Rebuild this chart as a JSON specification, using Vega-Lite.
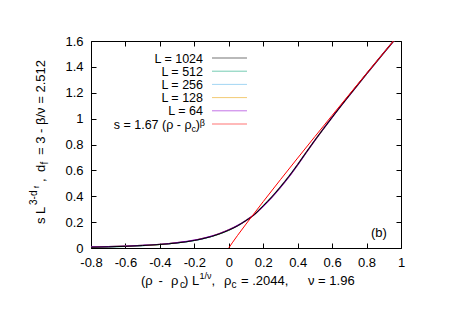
{
  "$schema": "https://vega.github.io/schema/vega-lite/v6.json",
  "width": 310,
  "height": 207,
  "autosize": {"type": "none"},
  "padding": {"left": 91, "top": 41, "right": 62, "bottom": 79},
  "background": "white",
  "config": {
    "view": {"stroke": "black", "strokeWidth": 1},
    "font": "Liberation Sans",
    "text": {"font": "Liberation Sans", "fontSize": 13, "baseline": "alphabetic", "color": "black"},
    "axis": {"grid": false, "domain": false, "labelFont": "Liberation Sans", "labelFontSize": 13, "labelColor": "black", "tickColor": "black", "tickWidth": 1, "title": null, "labelFlush": false, "labelOverlap": false, "labelBound": false}
  },
  "datasets": {
    "curves": [
      {"series": "L = 1024", "x": -0.8, "y": 0.006}, {"series": "L = 1024", "x": -0.7, "y": 0.009}, {"series": "L = 1024", "x": -0.6, "y": 0.013}, {"series": "L = 1024", "x": -0.5, "y": 0.019}, {"series": "L = 1024", "x": -0.4, "y": 0.027}, {"series": "L = 1024", "x": -0.3, "y": 0.039}, {"series": "L = 1024", "x": -0.2, "y": 0.058}, {"series": "L = 1024", "x": -0.15, "y": 0.072}, {"series": "L = 1024", "x": -0.1, "y": 0.089}, {"series": "L = 1024", "x": -0.05, "y": 0.111}, {"series": "L = 1024", "x": 0, "y": 0.138}, {"series": "L = 1024", "x": 0.05, "y": 0.171}, {"series": "L = 1024", "x": 0.1, "y": 0.212}, {"series": "L = 1024", "x": 0.15, "y": 0.26}, {"series": "L = 1024", "x": 0.2, "y": 0.326}, {"series": "L = 1024", "x": 0.25, "y": 0.395}, {"series": "L = 1024", "x": 0.3, "y": 0.472}, {"series": "L = 1024", "x": 0.35, "y": 0.555}, {"series": "L = 1024", "x": 0.4, "y": 0.645}, {"series": "L = 1024", "x": 0.45, "y": 0.74}, {"series": "L = 1024", "x": 0.5, "y": 0.833}, {"series": "L = 1024", "x": 0.55, "y": 0.922}, {"series": "L = 1024", "x": 0.6, "y": 1.01}, {"series": "L = 1024", "x": 0.7, "y": 1.18}, {"series": "L = 1024", "x": 0.8, "y": 1.346}, {"series": "L = 1024", "x": 0.9, "y": 1.508}, {"series": "L = 1024", "x": 0.97, "y": 1.62},
      {"series": "L = 512", "x": -0.8, "y": 0.006}, {"series": "L = 512", "x": -0.7, "y": 0.009}, {"series": "L = 512", "x": -0.6, "y": 0.013}, {"series": "L = 512", "x": -0.5, "y": 0.019}, {"series": "L = 512", "x": -0.4, "y": 0.027}, {"series": "L = 512", "x": -0.3, "y": 0.039}, {"series": "L = 512", "x": -0.2, "y": 0.058}, {"series": "L = 512", "x": -0.15, "y": 0.072}, {"series": "L = 512", "x": -0.1, "y": 0.089}, {"series": "L = 512", "x": -0.05, "y": 0.111}, {"series": "L = 512", "x": 0, "y": 0.138}, {"series": "L = 512", "x": 0.05, "y": 0.171}, {"series": "L = 512", "x": 0.1, "y": 0.212}, {"series": "L = 512", "x": 0.15, "y": 0.26}, {"series": "L = 512", "x": 0.2, "y": 0.326}, {"series": "L = 512", "x": 0.25, "y": 0.395}, {"series": "L = 512", "x": 0.3, "y": 0.472}, {"series": "L = 512", "x": 0.35, "y": 0.555}, {"series": "L = 512", "x": 0.4, "y": 0.645}, {"series": "L = 512", "x": 0.45, "y": 0.74}, {"series": "L = 512", "x": 0.5, "y": 0.833}, {"series": "L = 512", "x": 0.55, "y": 0.922}, {"series": "L = 512", "x": 0.6, "y": 1.01}, {"series": "L = 512", "x": 0.7, "y": 1.18}, {"series": "L = 512", "x": 0.8, "y": 1.346}, {"series": "L = 512", "x": 0.9, "y": 1.508}, {"series": "L = 512", "x": 0.97, "y": 1.62},
      {"series": "L = 256", "x": -0.8, "y": 0.007}, {"series": "L = 256", "x": -0.7, "y": 0.01}, {"series": "L = 256", "x": -0.6, "y": 0.014}, {"series": "L = 256", "x": -0.5, "y": 0.02}, {"series": "L = 256", "x": -0.4, "y": 0.028}, {"series": "L = 256", "x": -0.3, "y": 0.04}, {"series": "L = 256", "x": -0.2, "y": 0.059}, {"series": "L = 256", "x": -0.15, "y": 0.073}, {"series": "L = 256", "x": -0.1, "y": 0.09}, {"series": "L = 256", "x": -0.05, "y": 0.112}, {"series": "L = 256", "x": 0, "y": 0.139}, {"series": "L = 256", "x": 0.05, "y": 0.172}, {"series": "L = 256", "x": 0.1, "y": 0.212}, {"series": "L = 256", "x": 0.15, "y": 0.26}, {"series": "L = 256", "x": 0.2, "y": 0.325}, {"series": "L = 256", "x": 0.25, "y": 0.394}, {"series": "L = 256", "x": 0.3, "y": 0.471}, {"series": "L = 256", "x": 0.35, "y": 0.554}, {"series": "L = 256", "x": 0.4, "y": 0.645}, {"series": "L = 256", "x": 0.45, "y": 0.739}, {"series": "L = 256", "x": 0.5, "y": 0.833}, {"series": "L = 256", "x": 0.55, "y": 0.922}, {"series": "L = 256", "x": 0.6, "y": 1.01}, {"series": "L = 256", "x": 0.7, "y": 1.18}, {"series": "L = 256", "x": 0.8, "y": 1.346}, {"series": "L = 256", "x": 0.9, "y": 1.508}, {"series": "L = 256", "x": 0.97, "y": 1.62},
      {"series": "L = 128", "x": -0.8, "y": 0.007}, {"series": "L = 128", "x": -0.7, "y": 0.01}, {"series": "L = 128", "x": -0.6, "y": 0.014}, {"series": "L = 128", "x": -0.5, "y": 0.02}, {"series": "L = 128", "x": -0.4, "y": 0.028}, {"series": "L = 128", "x": -0.3, "y": 0.041}, {"series": "L = 128", "x": -0.2, "y": 0.06}, {"series": "L = 128", "x": -0.15, "y": 0.074}, {"series": "L = 128", "x": -0.1, "y": 0.091}, {"series": "L = 128", "x": -0.05, "y": 0.113}, {"series": "L = 128", "x": 0, "y": 0.14}, {"series": "L = 128", "x": 0.05, "y": 0.172}, {"series": "L = 128", "x": 0.1, "y": 0.213}, {"series": "L = 128", "x": 0.15, "y": 0.26}, {"series": "L = 128", "x": 0.2, "y": 0.324}, {"series": "L = 128", "x": 0.25, "y": 0.393}, {"series": "L = 128", "x": 0.3, "y": 0.47}, {"series": "L = 128", "x": 0.35, "y": 0.553}, {"series": "L = 128", "x": 0.4, "y": 0.644}, {"series": "L = 128", "x": 0.45, "y": 0.739}, {"series": "L = 128", "x": 0.5, "y": 0.832}, {"series": "L = 128", "x": 0.55, "y": 0.922}, {"series": "L = 128", "x": 0.6, "y": 1.01}, {"series": "L = 128", "x": 0.7, "y": 1.18}, {"series": "L = 128", "x": 0.8, "y": 1.346}, {"series": "L = 128", "x": 0.9, "y": 1.508}, {"series": "L = 128", "x": 0.97, "y": 1.62},
      {"series": "L = 64", "x": -0.8, "y": 0.008}, {"series": "L = 64", "x": -0.7, "y": 0.011}, {"series": "L = 64", "x": -0.6, "y": 0.015}, {"series": "L = 64", "x": -0.5, "y": 0.021}, {"series": "L = 64", "x": -0.4, "y": 0.029}, {"series": "L = 64", "x": -0.3, "y": 0.042}, {"series": "L = 64", "x": -0.2, "y": 0.061}, {"series": "L = 64", "x": -0.15, "y": 0.075}, {"series": "L = 64", "x": -0.1, "y": 0.092}, {"series": "L = 64", "x": -0.05, "y": 0.114}, {"series": "L = 64", "x": 0, "y": 0.141}, {"series": "L = 64", "x": 0.05, "y": 0.173}, {"series": "L = 64", "x": 0.1, "y": 0.213}, {"series": "L = 64", "x": 0.15, "y": 0.261}, {"series": "L = 64", "x": 0.2, "y": 0.322}, {"series": "L = 64", "x": 0.25, "y": 0.391}, {"series": "L = 64", "x": 0.3, "y": 0.468}, {"series": "L = 64", "x": 0.35, "y": 0.551}, {"series": "L = 64", "x": 0.4, "y": 0.643}, {"series": "L = 64", "x": 0.45, "y": 0.738}, {"series": "L = 64", "x": 0.5, "y": 0.832}, {"series": "L = 64", "x": 0.55, "y": 0.922}, {"series": "L = 64", "x": 0.6, "y": 1.01}, {"series": "L = 64", "x": 0.7, "y": 1.18}, {"series": "L = 64", "x": 0.8, "y": 1.346}, {"series": "L = 64", "x": 0.9, "y": 1.508}, {"series": "L = 64", "x": 0.97, "y": 1.62}
    ],
    "fit": [
      {"x": 0, "y": 0}, {"x": 0.02, "y": 0.0397}, {"x": 0.05, "y": 0.0953}, {"x": 0.1, "y": 0.1849}, {"x": 0.2, "y": 0.3585}, {"x": 0.3, "y": 0.5282}, {"x": 0.4, "y": 0.6954}, {"x": 0.5, "y": 0.8609}, {"x": 0.6, "y": 1.0249}, {"x": 0.7, "y": 1.1875}, {"x": 0.8, "y": 1.3492}, {"x": 0.9, "y": 1.51}, {"x": 1.0, "y": 1.67}
    ],
    "legend": [
      {"series": "L = 1024"}, {"series": "L = 512"}, {"series": "L = 256"}, {"series": "L = 128"}, {"series": "L = 64"}, {"series": "fit"}
    ]
  },
  "resolve": {"scale": {"y": "independent"}, "axis": {"x": "independent", "y": "independent"}},
  "layer": [
    {
      "resolve": {"axis": {"x": "independent", "y": "independent"}},
      "layer": [
        {
          "data": {"name": "curves"},
          "transform": [{"filter": "datum.series !== 'L = 1024'"}],
          "mark": {"type": "line", "clip": true, "strokeWidth": 1.2, "interpolate": "monotone"},
          "encoding": {
            "x": {"field": "x", "type": "quantitative", "scale": {"domain": [-0.8, 1], "nice": false, "zero": false}, "axis": {"orient": "bottom", "values": [-0.8, -0.6, -0.4, -0.2, 0, 0.2, 0.4, 0.6, 0.8, 1], "ticks": false, "labelPadding": 8, "labelExpr": "replace(format(datum.value, '~g'), '\u2212', '-')"}},
            "y": {"field": "y", "type": "quantitative", "scale": {"domain": [0, 1.6], "nice": false, "zero": false}, "axis": {"orient": "left", "values": [0, 0.2, 0.4, 0.6, 0.8, 1, 1.2, 1.4, 1.6], "ticks": false, "labelPadding": 8, "labelExpr": "format(datum.value, '~g')"}},
            "color": {"field": "series", "type": "nominal", "scale": {"domain": ["L = 1024", "L = 512", "L = 256", "L = 128", "L = 64", "fit"], "range": ["#000000", "#009e73", "#56b4e9", "#e69f00", "#9400d3", "#ff0000"]}, "legend": null}
          }
        },
        {
          "data": {"name": "curves"},
          "transform": [{"filter": "datum.series === 'L = 1024'"}],
          "mark": {"type": "line", "clip": true, "strokeWidth": 1, "interpolate": "monotone"},
          "encoding": {
            "x": {"field": "x", "type": "quantitative", "scale": {"domain": [-0.8, 1]}, "axis": null},
            "y": {"field": "y", "type": "quantitative", "scale": {"domain": [0, 1.6]}, "axis": null},
            "color": {"field": "series", "type": "nominal", "legend": null}
          }
        },
        {
          "data": {"name": "fit"},
          "mark": {"type": "line", "clip": true, "strokeWidth": 1, "color": "#ff0000"},
          "encoding": {
            "x": {"field": "x", "type": "quantitative", "scale": {"domain": [-0.8, 1]}, "axis": {"orient": "top", "values": [-0.8, -0.6, -0.4, -0.2, 0, 0.2, 0.4, 0.6, 0.8, 1], "labels": false, "tickSize": -5}},
            "y": {"field": "y", "type": "quantitative", "scale": {"domain": [0, 1.6]}, "axis": {"orient": "right", "values": [0, 0.2, 0.4, 0.6, 0.8, 1, 1.2, 1.4, 1.6], "labels": false, "tickSize": -5}}
          }
        },
        {
          "data": {"name": "fit"},
          "mark": {"type": "line", "opacity": 0},
          "encoding": {
            "x": {"field": "x", "type": "quantitative", "scale": {"domain": [-0.8, 1]}, "axis": {"orient": "bottom", "values": [-0.8, -0.6, -0.4, -0.2, 0, 0.2, 0.4, 0.6, 0.8, 1], "labels": false, "tickSize": -5}},
            "y": {"field": "y", "type": "quantitative", "scale": {"domain": [0, 1.6]}, "axis": {"orient": "left", "values": [0, 0.2, 0.4, 0.6, 0.8, 1, 1.2, 1.4, 1.6], "labels": false, "tickSize": -5}}
          }
        },
        {"data": {"values": [{}]}, "mark": {"type": "text", "text": "(ρ", "align": "left"}, "encoding": {"x": {"datum": -0.5097, "type": "quantitative", "scale": {"domain": [-0.8, 1]}, "axis": null}, "y": {"datum": -0.286, "type": "quantitative", "scale": {"domain": [0, 1.6]}, "axis": null}}},
        {"data": {"values": [{}]}, "mark": {"type": "text", "text": "-", "align": "left"}, "encoding": {"x": {"datum": -0.4081, "type": "quantitative", "scale": {"domain": [-0.8, 1]}, "axis": null}, "y": {"datum": -0.286, "type": "quantitative", "scale": {"domain": [0, 1.6]}, "axis": null}}},
        {"data": {"values": [{}]}, "mark": {"type": "text", "text": "ρ", "align": "left"}, "encoding": {"x": {"datum": -0.3355, "type": "quantitative", "scale": {"domain": [-0.8, 1]}, "axis": null}, "y": {"datum": -0.286, "type": "quantitative", "scale": {"domain": [0, 1.6]}, "axis": null}}},
        {"data": {"values": [{}]}, "mark": {"type": "text", "text": "c", "align": "left", "fontSize": 10}, "encoding": {"x": {"datum": -0.2832, "type": "quantitative", "scale": {"domain": [-0.8, 1]}, "axis": null}, "y": {"datum": -0.309, "type": "quantitative", "scale": {"domain": [0, 1.6]}, "axis": null}}},
        {"data": {"values": [{}]}, "mark": {"type": "text", "text": ") L", "align": "left"}, "encoding": {"x": {"datum": -0.26, "type": "quantitative", "scale": {"domain": [-0.8, 1]}, "axis": null}, "y": {"datum": -0.286, "type": "quantitative", "scale": {"domain": [0, 1.6]}, "axis": null}}},
        {"data": {"values": [{}]}, "mark": {"type": "text", "text": "1/ν", "align": "left", "fontSize": 9}, "encoding": {"x": {"datum": -0.17, "type": "quantitative", "scale": {"domain": [-0.8, 1]}, "axis": null}, "y": {"datum": -0.2396, "type": "quantitative", "scale": {"domain": [0, 1.6]}, "axis": null}}},
        {"data": {"values": [{}]}, "mark": {"type": "text", "text": ",", "align": "left"}, "encoding": {"x": {"datum": -0.1003, "type": "quantitative", "scale": {"domain": [-0.8, 1]}, "axis": null}, "y": {"datum": -0.286, "type": "quantitative", "scale": {"domain": [0, 1.6]}, "axis": null}}},
        {"data": {"values": [{}]}, "mark": {"type": "text", "text": "ρ", "align": "left"}, "encoding": {"x": {"datum": -0.0277, "type": "quantitative", "scale": {"domain": [-0.8, 1]}, "axis": null}, "y": {"datum": -0.286, "type": "quantitative", "scale": {"domain": [0, 1.6]}, "axis": null}}},
        {"data": {"values": [{}]}, "mark": {"type": "text", "text": "c", "align": "left", "fontSize": 10}, "encoding": {"x": {"datum": 0.0158, "type": "quantitative", "scale": {"domain": [-0.8, 1]}, "axis": null}, "y": {"datum": -0.309, "type": "quantitative", "scale": {"domain": [0, 1.6]}, "axis": null}}},
        {"data": {"values": [{}]}, "mark": {"type": "text", "text": "= .2044,", "align": "left"}, "encoding": {"x": {"datum": 0.071, "type": "quantitative", "scale": {"domain": [-0.8, 1]}, "axis": null}, "y": {"datum": -0.286, "type": "quantitative", "scale": {"domain": [0, 1.6]}, "axis": null}}},
        {"data": {"values": [{}]}, "mark": {"type": "text", "text": "ν = 1.96", "align": "left"}, "encoding": {"x": {"datum": 0.46, "type": "quantitative", "scale": {"domain": [-0.8, 1]}, "axis": null}, "y": {"datum": -0.286, "type": "quantitative", "scale": {"domain": [0, 1.6]}, "axis": null}}},
        {"data": {"values": [{}]}, "mark": {"type": "text", "text": "s L", "angle": 270, "align": "left"}, "encoding": {"x": {"datum": -1.0671, "type": "quantitative", "scale": {"domain": [-0.8, 1]}, "axis": null}, "y": {"datum": 0.1855, "type": "quantitative", "scale": {"domain": [0, 1.6]}, "axis": null}}},
        {"data": {"values": [{}]}, "mark": {"type": "text", "text": "3-d", "angle": 270, "align": "left", "fontSize": 10}, "encoding": {"x": {"datum": -1.1135, "type": "quantitative", "scale": {"domain": [-0.8, 1]}, "axis": null}, "y": {"datum": 0.3324, "type": "quantitative", "scale": {"domain": [0, 1.6]}, "axis": null}}},
        {"data": {"values": [{}]}, "mark": {"type": "text", "text": "f", "angle": 270, "align": "left", "fontSize": 7}, "encoding": {"x": {"datum": -1.102, "type": "quantitative", "scale": {"domain": [-0.8, 1]}, "axis": null}, "y": {"datum": 0.4638, "type": "quantitative", "scale": {"domain": [0, 1.6]}, "axis": null}}},
        {"data": {"values": [{}]}, "mark": {"type": "text", "text": ",", "angle": 270, "align": "left"}, "encoding": {"x": {"datum": -1.0671, "type": "quantitative", "scale": {"domain": [-0.8, 1]}, "axis": null}, "y": {"datum": 0.51, "type": "quantitative", "scale": {"domain": [0, 1.6]}, "axis": null}}},
        {"data": {"values": [{}]}, "mark": {"type": "text", "text": "d", "angle": 270, "align": "left"}, "encoding": {"x": {"datum": -1.0671, "type": "quantitative", "scale": {"domain": [-0.8, 1]}, "axis": null}, "y": {"datum": 0.587, "type": "quantitative", "scale": {"domain": [0, 1.6]}, "axis": null}}},
        {"data": {"values": [{}]}, "mark": {"type": "text", "text": "f", "angle": 270, "align": "left", "fontSize": 10}, "encoding": {"x": {"datum": -1.0497, "type": "quantitative", "scale": {"domain": [-0.8, 1]}, "axis": null}, "y": {"datum": 0.645, "type": "quantitative", "scale": {"domain": [0, 1.6]}, "axis": null}}},
        {"data": {"values": [{}]}, "mark": {"type": "text", "text": "= 3 - β/ν = 2.512", "angle": 270, "align": "left"}, "encoding": {"x": {"datum": -1.0671, "type": "quantitative", "scale": {"domain": [-0.8, 1]}, "axis": null}, "y": {"datum": 0.719, "type": "quantitative", "scale": {"domain": [0, 1.6]}, "axis": null}}},
        {"data": {"values": [{}]}, "mark": {"type": "text", "text": "(b)", "align": "left"}, "encoding": {"x": {"datum": 0.8258, "type": "quantitative", "scale": {"domain": [-0.8, 1]}, "axis": null}, "y": {"datum": 0.085, "type": "quantitative", "scale": {"domain": [0, 1.6]}, "axis": null}}}
      ]
    },
    {
      "data": {"name": "legend"},
      "layer": [
        {
          "mark": {"type": "rule", "strokeWidth": 1, "opacity": 0.55},
          "encoding": {
            "x": {"datum": -0.0974, "type": "quantitative", "scale": {"domain": [-0.8, 1]}, "axis": null},
            "x2": {"datum": 0.1058},
            "y": {"field": "series", "type": "nominal", "scale": {"type": "point", "padding": 0, "domain": ["L = 1024", "L = 512", "L = 256", "L = 128", "L = 64", "fit"], "range": [17, 83]}, "axis": null},
            "color": {"field": "series", "type": "nominal", "legend": null}
          }
        },
        {
          "transform": [{"filter": "datum.series !== 'fit'"}],
          "mark": {"type": "text", "align": "right", "dy": 4.5, "fontSize": 12.5},
          "encoding": {
            "x": {"datum": -0.1497, "type": "quantitative", "scale": {"domain": [-0.8, 1]}, "axis": null},
            "y": {"field": "series", "type": "nominal", "axis": null},
            "text": {"field": "series"}
          }
        },
        {
          "transform": [{"filter": "datum.series === 'fit'"}],
          "mark": {"type": "text", "text": "s = 1.67 (ρ - ρ", "align": "right", "dy": 4.5, "fontSize": 12.5},
          "encoding": {"x": {"datum": -0.2164, "type": "quantitative", "scale": {"domain": [-0.8, 1]}, "axis": null}, "y": {"field": "series", "type": "nominal", "axis": null}}
        },
        {
          "transform": [{"filter": "datum.series === 'fit'"}],
          "mark": {"type": "text", "text": "c", "align": "right", "dy": 7.5, "fontSize": 9},
          "encoding": {"x": {"datum": -0.1903, "type": "quantitative", "scale": {"domain": [-0.8, 1]}, "axis": null}, "y": {"field": "series", "type": "nominal", "axis": null}}
        },
        {
          "transform": [{"filter": "datum.series === 'fit'"}],
          "mark": {"type": "text", "text": ")", "align": "right", "dy": 4.5, "fontSize": 12.5},
          "encoding": {"x": {"datum": -0.1671, "type": "quantitative", "scale": {"domain": [-0.8, 1]}, "axis": null}, "y": {"field": "series", "type": "nominal", "axis": null}}
        },
        {
          "transform": [{"filter": "datum.series === 'fit'"}],
          "mark": {"type": "text", "text": "β", "align": "right", "dy": 2, "fontSize": 9},
          "encoding": {"x": {"datum": -0.1381, "type": "quantitative", "scale": {"domain": [-0.8, 1]}, "axis": null}, "y": {"field": "series", "type": "nominal", "axis": null}}
        }
      ]
    }
  ]
}
